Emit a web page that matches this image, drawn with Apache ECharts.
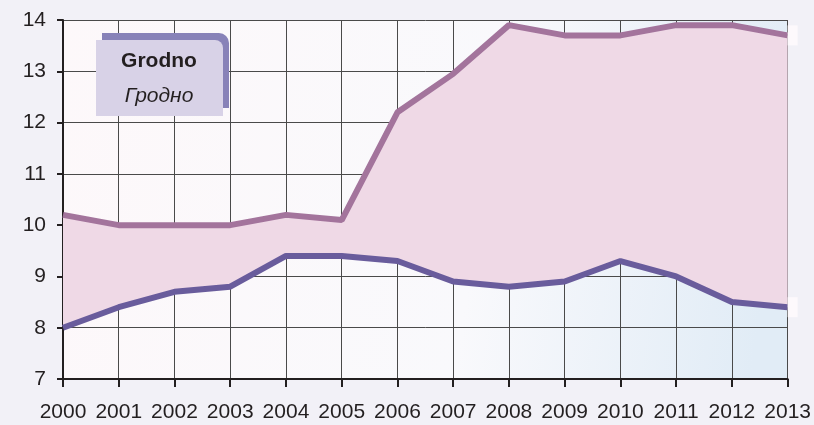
<!DOCTYPE html>
<html>
<head>
<meta charset="utf-8">
<script src="https://cdn.jsdelivr.net/npm/echarts@6/dist/echarts.min.js"></script>
<style>
  html, body { margin: 0; padding: 0; background: #f2f1f7; }
  #chart { width: 814px; height: 425px; }
</style>
</head>
<body>
<div id="chart"></div>
<script>
// data
var years = ["2000", "2001", "2002", "2003", "2004", "2005", "2006", "2007", "2008", "2009", "2010", "2011", "2012", "2013"];
var upper = [10.2, 10.0, 10.0, 10.0, 10.2, 10.1, 12.2, 12.95, 13.9, 13.7, 13.7, 13.9, 13.9, 13.7];
var lower = [8.0, 8.4, 8.7, 8.8, 9.4, 9.4, 9.3, 8.9, 8.8, 8.9, 9.3, 9.0, 8.5, 8.4];
var titleEn = "Grodno";
var titleRu = "Гродно";

// band between the two lines = stacked difference
var band = upper.map(function (v, i) { return +(v - lower[i]).toFixed(2); });

var myChart = echarts.init(document.getElementById("chart"));
var textColor = "#231f20";
var fontName = "Arial, 'Liberation Sans', sans-serif";
var endBox = {
  show: true,
  formatter: " ",
  distance: 0,
  width: 10,
  height: 20,
  padding: 0,
  backgroundColor: "#fdf9fc"
};

var option = {
  backgroundColor: "#f2f1f7",
  animation: false,
  grid: {
    left: 63, right: 25, top: 20, bottom: 46,
    show: true,
    borderWidth: 0,
    backgroundColor: {
      type: "linear", x: 0, y: 0, x2: 1, y2: 0.3,
      colorStops: [
        { offset: 0, color: "#fdf8fa" },
        { offset: 0.6, color: "#f9f9fc" },
        { offset: 1, color: "#e1ecf6" }
      ]
    }
  },
  xAxis: {
    type: "category",
    data: years,
    boundaryGap: false,
    axisLine: { lineStyle: { color: textColor, width: 2 } },
    axisTick: { length: 8, lineStyle: { color: textColor, width: 2 } },
    axisLabel: { color: textColor, fontSize: 21, fontFamily: fontName, margin: 23, interval: 0 },
    splitLine: { show: true, lineStyle: { color: "#4a4a4a", width: 1 } }
  },
  yAxis: {
    type: "value",
    min: 7,
    max: 14,
    interval: 1,
    axisLine: { show: true, lineStyle: { color: textColor, width: 2 } },
    axisTick: { show: true, length: 6, lineStyle: { color: textColor, width: 2 } },
    axisLabel: { color: textColor, fontSize: 21, fontFamily: fontName, margin: 17 },
    splitLine: { show: true, lineStyle: { color: "#4a4a4a", width: 1 } }
  },
  series: [
    {
      name: "lower",
      type: "line",
      stack: "band",
      data: lower,
      symbol: "none",
      z: 4,
      lineStyle: { color: "#695c9c", width: 6 },
      endLabel: endBox
    },
    {
      name: "upper",
      type: "line",
      stack: "band",
      data: band,
      symbol: "none",
      z: 3,
      lineStyle: { color: "#a3749c", width: 6 },
      areaStyle: { color: "#efd9e6", opacity: 1 },
      endLabel: endBox
    }
  ],
  graphic: [
    {
      type: "rect",
      shape: { x: 102, y: 33, width: 127, height: 75, r: [0, 10, 0, 0] },
      style: { fill: "#8882b8" },
      z: 10
    },
    {
      type: "rect",
      shape: { x: 96, y: 40, width: 127, height: 76, r: [0, 8, 0, 0] },
      style: { fill: "#d8d2e7" },
      z: 11
    },
    {
      type: "text",
      style: {
        text: titleEn, x: 159, y: 61, align: "center", verticalAlign: "middle",
        font: "bold 21px Arial, 'Liberation Sans', sans-serif", fill: textColor
      },
      z: 12
    },
    {
      type: "text",
      style: {
        text: titleRu, x: 159, y: 96, align: "center", verticalAlign: "middle",
        font: "italic 21px Arial, 'Liberation Sans', sans-serif", fill: textColor
      },
      z: 12
    }
  ]
};
myChart.setOption(option);
</script>
</body>
</html>
